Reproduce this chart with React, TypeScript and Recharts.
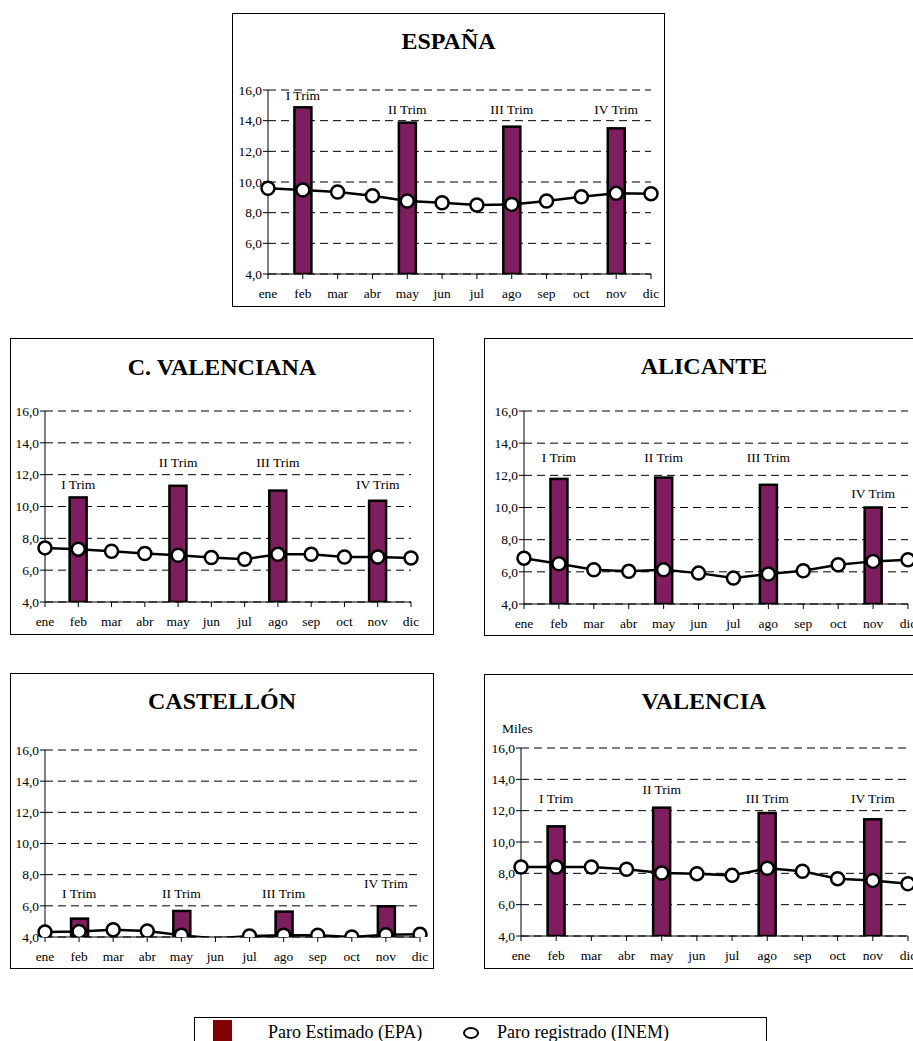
import React from "react";
import {
  Bar,
  CartesianGrid,
  ComposedChart,
  Line,
  ReferenceDot,
  XAxis,
  YAxis,
} from "recharts";

const FONT = '"Liberation Serif", "Times New Roman", serif';

const months = ["ene", "feb", "mar", "abr", "may", "jun", "jul", "ago", "sep", "oct", "nov", "dic"];
const yTicks = [4, 6, 8, 10, 12, 14, 16];
const trimLabels = ["I Trim", "II Trim", "III Trim", "IV Trim"];
const trimMonths = ["feb", "may", "ago", "nov"];

// paro estimado (EPA), one value per quarter
const espanaEpa = [14.87, 13.87, 13.61, 13.5];
const cvalEpa = [10.57, 11.3, 11.0, 10.36];
const alicanteEpa = [11.78, 11.86, 11.41, 10.0];
const castellonEpa = [5.18, 5.67, 5.63, 5.97];
const valenciaEpa = [11.0, 12.19, 11.85, 11.45];

// paro registrado (INEM), monthly
const espanaInem = [9.59, 9.48, 9.35, 9.11, 8.76, 8.65, 8.5, 8.54, 8.76, 9.04, 9.26, 9.24];
const cvalInem = [7.4, 7.32, 7.19, 7.05, 6.94, 6.8, 6.69, 7.0, 7.0, 6.83, 6.83, 6.77];
const alicanteInem = [6.85, 6.5, 6.13, 6.03, 6.13, 5.92, 5.61, 5.86, 6.07, 6.44, 6.65, 6.75];
const castellonInem = [4.32, 4.36, 4.47, 4.39, 4.11, 3.9, 4.06, 4.11, 4.11, 4.0, 4.15, 4.17];
const valenciaInem = [8.4, 8.4, 8.4, 8.26, 8.02, 7.98, 7.87, 8.32, 8.13, 7.66, 7.55, 7.34];

type Rect = { x: number; y: number; w: number; h: number };
type Plot = { l: number; t: number; r: number; b: number };

type PanelProps = {
  title: string;
  epa: number[];
  inem: number[];
  labelLevels: number[];
  box: Rect;
  plot: Plot;
  titleBaseline: number;
  miles?: boolean;
};

function Panel({ title, epa, inem, labelLevels, box, plot, titleBaseline, miles }: PanelProps) {
  const data = months.map((m, i) => {
    const q = trimMonths.indexOf(m);
    return { i, m, inem: inem[i], epa: q >= 0 ? epa[q] : null };
  });

  const tickStyle = { fill: "#000", fontSize: 13.5, fontFamily: FONT };

  return (
    <>
      <div
        style={{
          position: "absolute",
          left: box.x,
          top: box.y,
          width: box.w,
          height: box.h,
          border: "1px solid #000",
          boxSizing: "border-box",
          background: "#fff",
        }}
      />
      <div
        style={{
          position: "absolute",
          left: box.x,
          width: box.w,
          top: titleBaseline - 20,
          textAlign: "center",
          fontFamily: FONT,
          fontWeight: "bold",
          fontSize: 24,
          lineHeight: "24px",
        }}
      >
        {title}
      </div>
      {miles && (
        <div
          style={{
            position: "absolute",
            left: plot.l - 19,
            top: plot.t - 27,
            fontFamily: FONT,
            fontSize: 13.5,
          }}
        >
          Miles
        </div>
      )}
      <div style={{ position: "absolute", left: box.x, top: box.y }}>
        <ComposedChart
          width={box.w}
          height={box.h}
          data={data}
          margin={{ top: plot.t - box.y, right: box.x + box.w - plot.r, left: 0, bottom: 0 }}
        >
          <CartesianGrid horizontal vertical={false} stroke="#000" strokeDasharray="8 5" />
          <XAxis
            type="number"
            dataKey="i"
            domain={[0, 11]}
            ticks={months.map((_, i) => i)}
            tickFormatter={(v: number) => months[v]}
            interval={0}
            height={box.y + box.h - plot.b}
            tickSize={5}
            tickMargin={9}
            stroke="#000"
            tick={tickStyle}
          />
          <YAxis
            type="number"
            domain={[4, 16]}
            ticks={yTicks}
            allowDataOverflow
            interval={0}
            width={plot.l - box.x}
            tickSize={5}
            tickMargin={1}
            stroke="#000"
            tick={tickStyle}
            tickFormatter={(v: number) => v.toFixed(1).replace(".", ",")}
          />
          <Bar
            dataKey="epa"
            barSize={17}
            isAnimationActive={false}
            shape={(p: any) =>
              p.payload.epa == null ? (
                <g />
              ) : (
                <rect
                  x={p.x}
                  y={p.y}
                  width={p.width}
                  height={p.height}
                  fill="#7e1e5e"
                  stroke="#000"
                  strokeWidth={2.5}
                />
              )
            }
          />
          <Line
            dataKey="inem"
            stroke="#000"
            strokeWidth={2.5}
            isAnimationActive={false}
            dot={(p: any) =>
              p.payload.inem < 4 ? (
                <g key={p.index} />
              ) : (
                <circle
                  key={p.index}
                  cx={p.cx}
                  cy={p.cy}
                  r={6.5}
                  fill="#fff"
                  stroke="#000"
                  strokeWidth={2.5}
                />
              )
            }
          />
          {trimMonths.map((m, k) => (
            <ReferenceDot
              key={m}
              x={months.indexOf(m)}
              y={labelLevels[k]}
              r={0}
              fill="none"
              stroke="none"
              label={{
                value: trimLabels[k],
                position: "center",
                fill: "#000",
                fontSize: 13.5,
                fontFamily: FONT,
              }}
            />
          ))}
        </ComposedChart>
      </div>
    </>
  );
}

export default function App() {
  return (
    <div
      style={{
        position: "absolute",
        left: 0,
        top: 0,
        width: 913,
        height: 1041,
        overflow: "hidden",
        background: "#fff",
      }}
    >
      <style>{`
        .recharts-cartesian-axis-tick-value,
        .recharts-cartesian-axis-tick-value tspan {
          font-family: "Liberation Serif", "Times New Roman", serif !important;
          font-size: 13.5px !important;
          fill: #000 !important;
        }
      `}</style>
      <Panel
        title="ESPAÑA"
        epa={espanaEpa}
        inem={espanaInem}
        labelLevels={[15.67, 14.76, 14.76, 14.76]}
        box={{ x: 232, y: 13, w: 433, h: 294 }}
        plot={{ l: 268, t: 90, r: 651, b: 274 }}
        titleBaseline={49}
      />
      <Panel
        title="C. VALENCIANA"
        epa={cvalEpa}
        inem={cvalInem}
        labelLevels={[11.41, 12.81, 12.81, 11.41]}
        box={{ x: 10, y: 338, w: 424, h: 297 }}
        plot={{ l: 45, t: 411, r: 411, b: 602 }}
        titleBaseline={375}
      />
      <Panel
        title="ALICANTE"
        epa={alicanteEpa}
        inem={alicanteInem}
        labelLevels={[13.1, 13.1, 13.1, 10.87]}
        box={{ x: 484, y: 338, w: 440, h: 298 }}
        plot={{ l: 524, t: 411, r: 908, b: 604 }}
        titleBaseline={374}
      />
      <Panel
        title="CASTELLÓN"
        epa={castellonEpa}
        inem={castellonInem}
        labelLevels={[6.83, 6.83, 6.83, 7.43]}
        box={{ x: 10, y: 673, w: 424, h: 296 }}
        plot={{ l: 45, t: 750, r: 420, b: 937 }}
        titleBaseline={709}
      />
      <Panel
        title="VALENCIA"
        epa={valenciaEpa}
        inem={valenciaInem}
        labelLevels={[12.77, 13.36, 12.77, 12.77]}
        box={{ x: 484, y: 674, w: 440, h: 295 }}
        plot={{ l: 521, t: 748, r: 908, b: 936 }}
        titleBaseline={709}
        miles
      />

      {/* legend */}
      <div
        style={{
          position: "absolute",
          left: 194,
          top: 1017,
          width: 573,
          height: 40,
          border: "1px solid #000",
          boxSizing: "border-box",
          fontFamily: FONT,
          fontSize: 18,
        }}
      >
        <div
          style={{
            position: "absolute",
            left: 18,
            top: 2,
            width: 19,
            height: 22,
            background: "#800000",
          }}
        />
        <div style={{ position: "absolute", left: 73, top: 3, lineHeight: "22px" }}>
          Paro Estimado (EPA)
        </div>
        <svg style={{ position: "absolute", left: 267, top: 8 }} width={18} height={14}>
          <ellipse cx={9} cy={7} rx={7} ry={5} fill="#fff" stroke="#000" strokeWidth={2} />
        </svg>
        <div style={{ position: "absolute", left: 302, top: 3, lineHeight: "22px" }}>
          Paro registrado (INEM)
        </div>
      </div>
    </div>
  );
}
